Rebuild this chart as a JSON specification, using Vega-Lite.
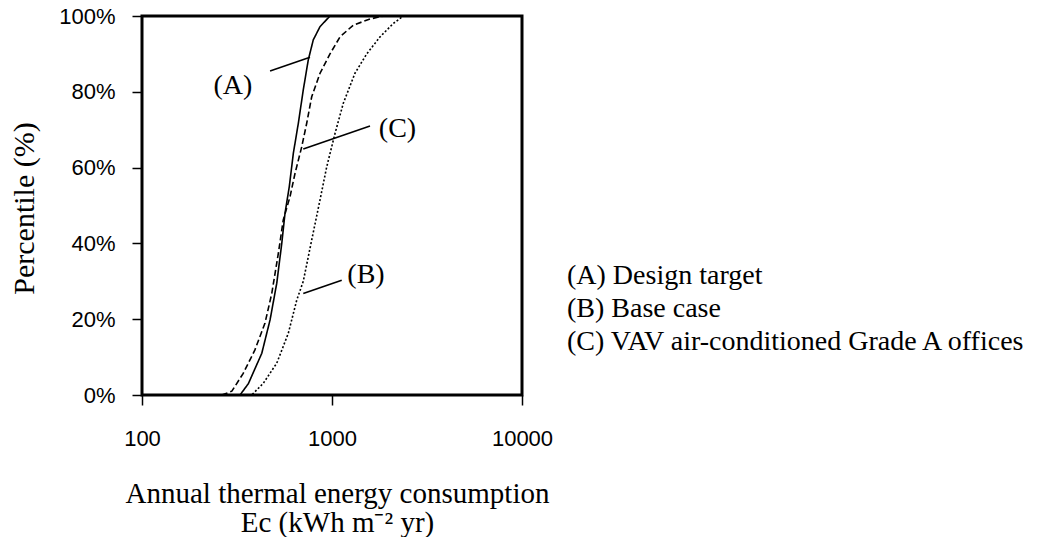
{
  "$schema": "https://vega.github.io/schema/vega-lite/v6.json",
  "width": 380,
  "height": 379,
  "autosize": "none",
  "padding": {"left": 142, "top": 16, "right": 521, "bottom": 142},
  "background": "white",
  "config": {
    "view": {"stroke": "black", "strokeWidth": 3},
    "axis": {
      "domain": false,
      "grid": false,
      "tickColor": "black",
      "tickWidth": 1.5,
      "tickSize": 10,
      "labelColor": "black",
      "labelFont": "Liberation Sans",
      "labelFontSize": 22,
      "labelFlush": false,
      "labelOverlap": false,
      "titleColor": "black",
      "titleFont": "Liberation Serif",
      "titleFontWeight": "normal",
      "titleFontSize": 29
    }
  },
  "datasets": {
    "curves": [
      {"series": "(A) Design target", "x": 300, "p": 0},
      {"series": "(A) Design target", "x": 328, "p": 0.0},
      {"series": "(A) Design target", "x": 363, "p": 0.03},
      {"series": "(A) Design target", "x": 427, "p": 0.11},
      {"series": "(A) Design target", "x": 472, "p": 0.198},
      {"series": "(A) Design target", "x": 512, "p": 0.295},
      {"series": "(A) Design target", "x": 544, "p": 0.40},
      {"series": "(A) Design target", "x": 566, "p": 0.48},
      {"series": "(A) Design target", "x": 596, "p": 0.55},
      {"series": "(A) Design target", "x": 626, "p": 0.638},
      {"series": "(A) Design target", "x": 665, "p": 0.717},
      {"series": "(A) Design target", "x": 706, "p": 0.805},
      {"series": "(A) Design target", "x": 750, "p": 0.884},
      {"series": "(A) Design target", "x": 797, "p": 0.937},
      {"series": "(A) Design target", "x": 865, "p": 0.972},
      {"series": "(A) Design target", "x": 976, "p": 1.0},
      {"series": "(B) Base case", "x": 330, "p": 0},
      {"series": "(B) Base case", "x": 378, "p": 0.0},
      {"series": "(B) Base case", "x": 435, "p": 0.031},
      {"series": "(B) Base case", "x": 512, "p": 0.084},
      {"series": "(B) Base case", "x": 589, "p": 0.163},
      {"series": "(B) Base case", "x": 652, "p": 0.25},
      {"series": "(B) Base case", "x": 706, "p": 0.30},
      {"series": "(B) Base case", "x": 782, "p": 0.409},
      {"series": "(B) Base case", "x": 865, "p": 0.515},
      {"series": "(B) Base case", "x": 938, "p": 0.602},
      {"series": "(B) Base case", "x": 1037, "p": 0.69},
      {"series": "(B) Base case", "x": 1147, "p": 0.77},
      {"series": "(B) Base case", "x": 1321, "p": 0.849},
      {"series": "(B) Base case", "x": 1523, "p": 0.90},
      {"series": "(B) Base case", "x": 1790, "p": 0.945},
      {"series": "(B) Base case", "x": 2100, "p": 0.98},
      {"series": "(B) Base case", "x": 2374, "p": 1.0},
      {"series": "(C) VAV air-conditioned Grade A offices", "x": 263, "p": 0},
      {"series": "(C) VAV air-conditioned Grade A offices", "x": 297, "p": 0.01},
      {"series": "(C) VAV air-conditioned Grade A offices", "x": 341, "p": 0.057},
      {"series": "(C) VAV air-conditioned Grade A offices", "x": 393, "p": 0.119},
      {"series": "(C) VAV air-conditioned Grade A offices", "x": 444, "p": 0.19},
      {"series": "(C) VAV air-conditioned Grade A offices", "x": 482, "p": 0.268},
      {"series": "(C) VAV air-conditioned Grade A offices", "x": 522, "p": 0.374},
      {"series": "(C) VAV air-conditioned Grade A offices", "x": 554, "p": 0.462},
      {"series": "(C) VAV air-conditioned Grade A offices", "x": 601, "p": 0.523},
      {"series": "(C) VAV air-conditioned Grade A offices", "x": 639, "p": 0.585},
      {"series": "(C) VAV air-conditioned Grade A offices", "x": 693, "p": 0.655},
      {"series": "(C) VAV air-conditioned Grade A offices", "x": 736, "p": 0.717},
      {"series": "(C) VAV air-conditioned Grade A offices", "x": 782, "p": 0.787},
      {"series": "(C) VAV air-conditioned Grade A offices", "x": 865, "p": 0.849},
      {"series": "(C) VAV air-conditioned Grade A offices", "x": 976, "p": 0.90},
      {"series": "(C) VAV air-conditioned Grade A offices", "x": 1102, "p": 0.945},
      {"series": "(C) VAV air-conditioned Grade A offices", "x": 1295, "p": 0.976},
      {"series": "(C) VAV air-conditioned Grade A offices", "x": 1585, "p": 0.992},
      {"series": "(C) VAV air-conditioned Grade A offices", "x": 1862, "p": 1.0}
    ],
    "leaders": [
      {"x": 472, "p": 0.855, "x2": 766, "p2": 0.891},
      {"x": 706, "p": 0.649, "x2": 1585, "p2": 0.71},
      {"x": 706, "p": 0.268, "x2": 1125, "p2": 0.303}
    ],
    "labels": [
      {"label": "(A)", "x": 301, "p": 0.815},
      {"label": "(C)", "x": 2212, "p": 0.702},
      {"label": "(B)", "x": 1510, "p": 0.317}
    ]
  },
  "layer": [
    {
      "data": {"name": "curves"},
      "mark": {"type": "line", "strokeWidth": 1.6, "color": "black", "clip": true},
      "encoding": {
        "x": {
          "field": "x",
          "type": "quantitative",
          "scale": {"type": "log", "domain": [100, 10000], "nice": false},
          "axis": {
            "values": [100, 1000, 10000],
            "format": "d",
            "labelPadding": 23,
            "title": ["Annual thermal energy consumption", "Ec (kWh m\u207b\u00b2 yr)"],
            "titleX": 195,
            "titleY": 107,
            "titleBaseline": "alphabetic",
            "titleLineHeight": 29
          }
        },
        "y": {
          "field": "p",
          "type": "quantitative",
          "scale": {"domain": [0, 1], "nice": false},
          "axis": {
            "values": [0, 0.2, 0.4, 0.6, 0.8, 1],
            "format": ".0%",
            "labelPadding": 17,
            "title": "Percentile (%)",
            "titleFontSize": 30,
            "titleX": -118,
            "titleY": 192,
            "titleAngle": -90,
            "titleAlign": "center",
            "titleBaseline": "middle"
          }
        },
        "order": {"field": "p", "type": "quantitative"},
        "strokeDash": {
          "field": "series",
          "type": "nominal",
          "scale": {
            "domain": ["(A) Design target", "(B) Base case", "(C) VAV air-conditioned Grade A offices"],
            "range": [[1, 0], [2, 2], [6, 3]]
          },
          "legend": {
            "title": null,
            "orient": "none",
            "legendX": 397,
            "legendY": 246,
            "padding": 0,
            "symbolOpacity": 0,
            "symbolSize": 0,
            "symbolStrokeWidth": 0,
            "labelOffset": 0,
            "labelFont": "Liberation Serif",
            "labelFontSize": 28,
            "labelColor": "black",
            "labelLimit": 0,
            "rowPadding": 5
          }
        }
      }
    },
    {
      "data": {"name": "leaders"},
      "mark": {"type": "rule", "color": "black", "strokeWidth": 1.6},
      "encoding": {
        "x": {"field": "x", "type": "quantitative"},
        "y": {"field": "p", "type": "quantitative"},
        "x2": {"field": "x2"},
        "y2": {"field": "p2"}
      }
    },
    {
      "data": {"name": "labels"},
      "mark": {"type": "text", "font": "Liberation Serif", "fontSize": 28, "color": "black", "align": "center", "baseline": "middle"},
      "encoding": {
        "x": {"field": "x", "type": "quantitative"},
        "y": {"field": "p", "type": "quantitative"},
        "text": {"field": "label"}
      }
    }
  ]
}
